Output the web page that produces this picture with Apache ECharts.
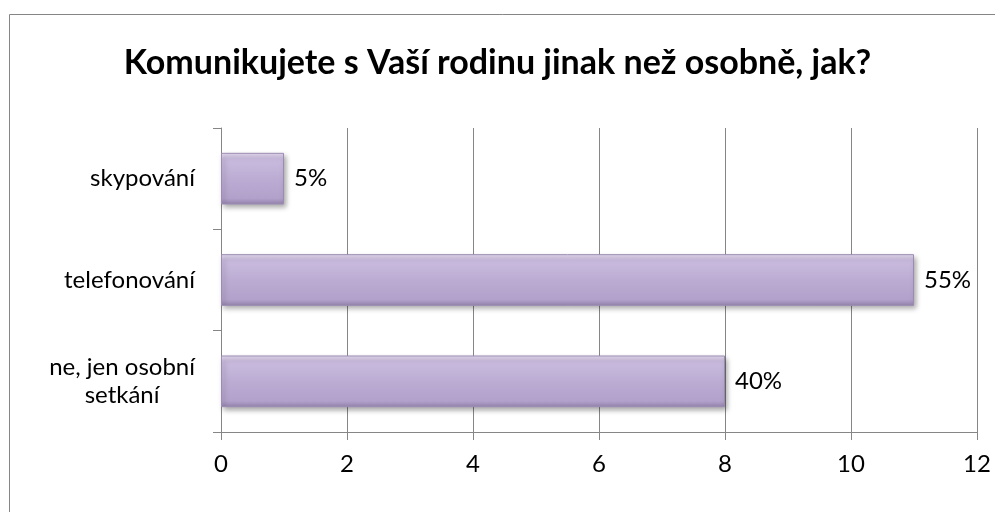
<!DOCTYPE html>
<html><head><meta charset="utf-8">
<script src="https://cdn.jsdelivr.net/npm/echarts@6/dist/echarts.min.js"></script>
<style>html,body{margin:0;padding:0;background:#fff}#c{width:995px;height:512px}</style>
</head><body><div id="c"></div>
<script>
const titleText = 'Komunikujete s Vaší rodinu jinak než osobně, jak?';
const categories = ['ne, jen osobní setkání', 'telefonování', 'skypování'];
const values = [8, 11, 1];
const percentLabels = ['40%', '55%', '5%'];
const xTicks = [0, 2, 4, 6, 8, 10, 12];

const FONT = 'Lato';
const chart = echarts.init(document.getElementById('c'), null, {renderer: 'canvas'});
chart.setOption({
  animation: false,
  backgroundColor: '#fff',
  title: {
    text: titleText, left: 'center', top: 41,
    textStyle: {fontFamily: FONT, fontWeight: 'bold', fontSize: 34, color: '#000'}
  },
  graphic: [{
    type: 'rect', shape: {x: 9.5, y: 14.5, width: 990, height: 520},
    style: {fill: null, stroke: '#868686', lineWidth: 1}, silent: true
  }],
  grid: {left: 221, right: 18, top: 128, bottom: 80, containLabel: false},
  xAxis: {
    type: 'value', min: xTicks[0], max: xTicks[xTicks.length - 1], interval: 2,
    axisLine: {show: true, lineStyle: {color: '#868686'}},
    axisTick: {show: true, length: 8, lineStyle: {color: '#868686'}},
    splitLine: {show: true, lineStyle: {color: '#868686'}},
    axisLabel: {fontFamily: FONT, fontSize: 24, color: '#000', margin: 20}
  },
  yAxis: {
    type: 'category', data: categories,
    axisLine: {show: true, lineStyle: {color: '#868686'}},
    axisTick: {show: true, length: 8, lineStyle: {color: '#868686'}},
    axisLabel: {
      fontFamily: FONT, fontSize: 24, color: '#000', margin: 26, lineHeight: 28,
      formatter: function (v) {
        if (v === 'ne, jen osobní setkání') return '{a|ne, jen osobní}\n{b|setkání}';
        return v;
      },
      rich: {
        a: {fontFamily: FONT, fontSize: 24, color: '#000', lineHeight: 28},
        b: {fontFamily: FONT, fontSize: 24, color: '#000', lineHeight: 28, align: 'center'}
      }
    }
  },
  series: [{
    type: 'bar', data: values, barWidth: '51%',
    itemStyle: {
      color: new echarts.graphic.LinearGradient(0, 0, 0, 1, [
        {offset: 0, color: '#E6DDF1'},
        {offset: 0.12, color: '#C9BBDE'},
        {offset: 0.5, color: '#BCACD4'},
        {offset: 0.88, color: '#B2A1CA'},
        {offset: 1, color: '#9483AC'}
      ]),
      borderColor: '#9C8CB4', borderWidth: 1,
      shadowColor: 'rgba(0,0,0,0.35)', shadowBlur: 5, shadowOffsetX: 2, shadowOffsetY: 3
    },
    label: {
      show: true, position: 'right', distance: 10,
      fontFamily: FONT, fontSize: 24, color: '#000',
      formatter: function (p) { return percentLabels[p.dataIndex]; }
    }
  }]
});
</script></body></html>
